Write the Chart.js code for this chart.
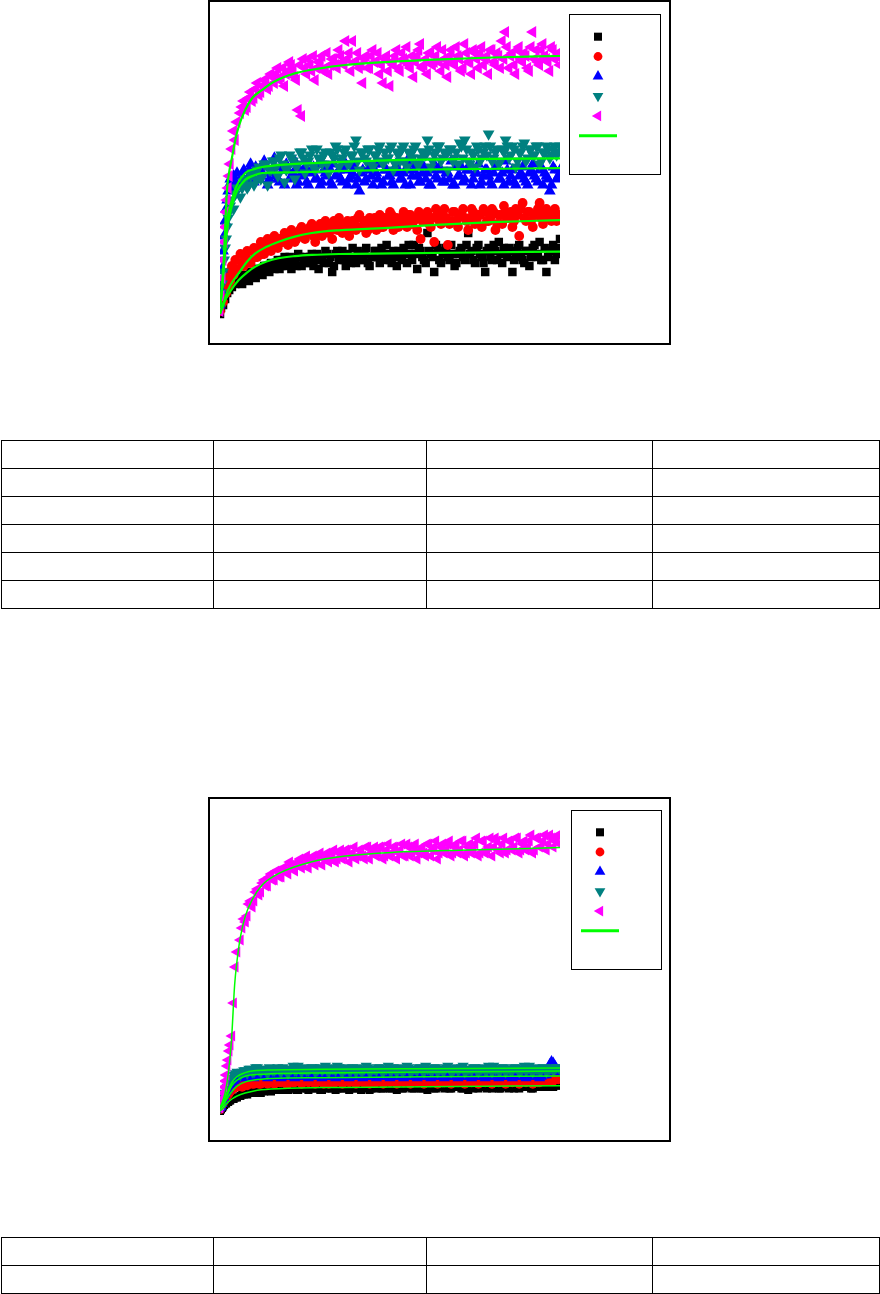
<!DOCTYPE html>
<html>
<head>
<meta charset="utf-8">
<script src="https://cdn.jsdelivr.net/npm/chart.js@4.4.1/dist/chart.umd.min.js"></script>
<style>
  html, body { margin: 0; padding: 0; background: #fff; }
  body { position: relative; width: 880px; height: 1294px; overflow: hidden; }
  .frame { position: absolute; left: 208px; width: 463px; height: 345px; border: 2px solid #000; box-sizing: border-box; }
  .frame canvas { display: block; }
  table.grid { position: absolute; left: 1px; width: 878px; border-collapse: collapse; table-layout: fixed; }
  table.grid td { border: 1px solid #000; height: 27px; padding: 0; }
</style>
</head>
<body>

<div class="frame" style="top:0px;"><canvas id="uptakeChart" width="459" height="341"></canvas></div>

<table class="grid" style="top:440px;">
  <colgroup><col style="width:212px"><col style="width:213px"><col style="width:226px"><col style="width:227px"></colgroup>
  <tr><td></td><td></td><td></td><td></td></tr>
  <tr><td></td><td></td><td></td><td></td></tr>
  <tr><td></td><td></td><td></td><td></td></tr>
  <tr><td></td><td></td><td></td><td></td></tr>
  <tr><td></td><td></td><td></td><td></td></tr>
  <tr><td></td><td></td><td></td><td></td></tr>
</table>

<div class="frame" style="top:797px;"><canvas id="uptakeChart2" width="459" height="341"></canvas></div>

<table class="grid" style="top:1237px;">
  <colgroup><col style="width:212px"><col style="width:213px"><col style="width:226px"><col style="width:227px"></colgroup>
  <tr><td></td><td></td><td></td><td></td></tr>
  <tr><td></td><td></td><td></td><td></td></tr>
</table>

<script>
// --- Data (arbitrary units, time 0..100, signal 0..100) --- //

const timeSteps = [
  0, 0.3, 0.6, 0.9, 1.2, 1.5, 1.8, 2.1, 2.4, 2.7, 3, 3.5, 4, 4.5, 5,
  6, 7, 8, 9, 10, 11, 12, 13, 14, 15,
  16, 17, 18, 19, 20, 21, 22, 23, 24, 25,
  26, 27, 28, 29, 30, 31, 32, 33, 34, 35,
  36, 37, 38, 39, 40, 41, 42, 43, 44, 45,
  46, 47, 48, 49, 50, 51, 52, 53, 54, 55,
  56, 57, 58, 59, 60, 61, 62, 63, 64, 65,
  66, 67, 68, 69, 70, 71, 72, 73, 74, 75,
  76, 77, 78, 79, 80, 81, 82, 83, 84, 85,
  86, 87, 88, 89, 90, 91, 92, 93, 94, 95,
  96, 97, 98, 99, 100
];
// second reading per series, taken between the first ones
const timeStepsHalf = [
  6.5, 7.5, 8.5, 9.5, 10.5, 11.5, 12.5, 13.5, 14.5, 15.5,
  16.5, 17.5, 18.5, 19.5, 20.5, 21.5, 22.5, 23.5, 24.5, 25.5,
  26.5, 27.5, 28.5, 29.5, 30.5, 31.5, 32.5, 33.5, 34.5, 35.5,
  36.5, 37.5, 38.5, 39.5, 40.5, 41.5, 42.5, 43.5, 44.5, 45.5,
  46.5, 47.5, 48.5, 49.5, 50.5, 51.5, 52.5, 53.5, 54.5, 55.5,
  56.5, 57.5, 58.5, 59.5, 60.5, 61.5, 62.5, 63.5, 64.5, 65.5,
  66.5, 67.5, 68.5, 69.5, 70.5, 71.5, 72.5, 73.5, 74.5, 75.5,
  76.5, 77.5, 78.5, 79.5, 80.5, 81.5, 82.5, 83.5, 84.5, 85.5,
  86.5, 87.5, 88.5, 89.5, 90.5, 91.5, 92.5, 93.5, 94.5, 95.5,
  96.5, 97.5, 98.5, 99.5
];

// first chart
const c1Black = [
  2, 4, 6, 5, 8, 7, 10, 9, 11, 10, 12, 11, 13, 12, 14,
  13, 15, 14, 16, 15, 17, 16, 18, 17, 19,
  17, 20, 18, 21, 19, 17, 20, 22, 18, 21,
  19, 22, 20, 17, 21, 23, 19, 16, 22, 20,
  23, 18, 21, 24, 19, 22, 20, 24, 18, 21,
  23, 19, 22, 25, 20, 23, 18, 21, 24, 19,
  22, 25, 17, 23, 20, 29, 22, 16, 24, 19,
  23, 21, 25, 18, 22, 24, 20, 29, 23, 19,
  25, 21, 16, 24, 20, 23, 26, 19, 22, 24,
  16, 21, 25, 20, 23, 18, 24, 21, 26, 20,
  16, 23, 25, 22, 27
];
const c1BlackB = [
  12, 15, 13, 16, 14, 17, 15, 18, 16, 18,
  19, 17, 20, 18, 21, 19, 18, 21, 20, 19,
  21, 18, 22, 20, 19, 22, 21, 18, 23, 21,
  20, 22, 19, 21, 23, 20, 22, 19, 21, 23,
  21, 24, 20, 22, 19, 21, 23, 20, 22, 25,
  20, 22, 24, 21, 19, 23, 21, 25, 20, 22,
  24, 20, 22, 19, 23, 21, 25, 22, 20, 24,
  22, 19, 23, 21, 25, 20, 22, 24, 21, 23,
  20, 24, 22, 19, 23, 21, 25, 22, 20, 24,
  21, 23, 20, 24
];
const c1Red = [
  3, 5, 8, 6, 10, 12, 9, 14, 11, 16, 13, 18, 15, 20, 17,
  22, 18, 23, 19, 24, 21, 26, 22, 27, 23,
  28, 24, 26, 29, 25, 30, 26, 28, 31, 27,
  29, 32, 26, 30, 28, 33, 29, 27, 31, 34,
  29, 32, 28, 33, 30, 35, 31, 29, 34, 32,
  30, 35, 31, 33, 36, 30, 34, 32, 36, 31,
  35, 33, 30, 27, 34, 36, 31, 26, 35, 32,
  37, 25, 33, 36, 31, 35, 34, 30, 37, 32,
  35, 31, 36, 33, 37, 30, 35, 32, 36, 34,
  31, 37, 28, 39, 33, 36, 31, 35, 39, 32,
  37, 34, 36, 33, 35
];
const c1RedB = [
  19, 21, 20, 23, 21, 24, 22, 25, 24, 26,
  25, 27, 26, 28, 27, 29, 27, 30, 28, 29,
  31, 28, 30, 32, 29, 31, 30, 33, 30, 32,
  31, 33, 30, 32, 34, 31, 33, 30, 32, 34,
  33, 31, 34, 32, 35, 33, 31, 34, 33, 35,
  32, 34, 36, 33, 35, 32, 34, 37, 33, 35,
  34, 32, 36, 33, 35, 37, 33, 34, 36, 33,
  35, 37, 33, 34, 36, 32, 35, 38, 34, 36,
  33, 35, 37, 34, 36, 33, 35, 37, 34, 36,
  35, 33, 37, 34
];
const c1Blue = [
  5, 10, 17, 23, 28, 33, 37, 40, 43, 45, 47, 44, 48, 46, 49,
  45, 50, 47, 52, 46, 50, 48, 53, 45, 49,
  54, 47, 51, 45, 50, 48, 53, 46, 49, 51,
  45, 50, 47, 52, 46, 49, 51, 45, 48, 50,
  46, 52, 47, 49, 45, 43, 50, 47, 51, 45,
  49, 52, 46, 50, 48, 45, 51, 47, 49, 53,
  45, 50, 48, 46, 51, 49, 45, 52, 47, 50,
  46, 49, 53, 45, 48, 51, 47, 50, 45, 49,
  52, 46, 50, 48, 45, 51, 47, 49, 53, 46,
  50, 45, 48, 51, 46, 49, 52, 47, 50, 45,
  48, 43, 51, 47, 50
];
const c1BlueB = [
  48, 46, 50, 48, 51, 47, 49, 51, 47, 50,
  48, 46, 50, 52, 47, 49, 45, 50, 48, 46,
  49, 51, 47, 45, 50, 48, 46, 52, 49, 47,
  50, 45, 48, 51, 47, 49, 46, 50, 48, 52,
  47, 45, 50, 48, 46, 51, 49, 47, 45, 50,
  48, 52, 46, 49, 47, 45, 50, 48, 51, 46,
  49, 47, 45, 51, 48, 46, 50, 52, 47, 49,
  45, 48, 50, 46, 49, 51, 47, 45, 50, 48,
  46, 51, 49, 47, 45, 50, 48, 46, 51, 49,
  47, 45, 50, 48
];
const c1Teal = [
  4, 9, 12, 16, 20, 24, 27, 31, 34, 36, 38, 40, 37, 42, 44,
  41, 46, 44, 48, 45, 50, 47, 52, 45, 50,
  53, 48, 55, 46, 51, 54, 47, 52, 56, 49,
  53, 57, 50, 54, 52, 56, 49, 55, 58, 51,
  54, 57, 52, 55, 60, 50, 56, 53, 57, 51,
  55, 58, 52, 54, 57, 50, 56, 53, 58, 51,
  55, 57, 52, 54, 56, 60, 51, 55, 58, 53,
  56, 50, 57, 54, 52, 58, 60, 53, 56, 51,
  57, 54, 58, 62, 53, 56, 52, 57, 60, 54,
  58, 51, 56, 58, 53, 57, 55, 58, 52, 56,
  58, 54, 57, 55, 58
];
const c1TealB = [
  44, 47, 45, 49, 47, 51, 48, 52, 50, 53,
  51, 54, 52, 50, 55, 53, 51, 56, 54, 52,
  55, 51, 57, 53, 55, 52, 56, 54, 57, 53,
  56, 52, 55, 58, 53, 56, 54, 57, 52, 55,
  57, 53, 56, 54, 58, 52, 55, 57, 53, 56,
  54, 58, 52, 56, 55, 57, 53, 56, 58, 54,
  55, 57, 53, 56, 59, 54, 57, 52, 55, 58,
  53, 56, 55, 58, 54, 57, 53, 56, 58, 55,
  57, 53, 56, 59, 54, 57, 55, 58, 53, 56,
  57, 55, 58, 56
];
const c1Magenta = [
  3, 8, 14, 20, 26, 31, 36, 40, 44, 48, 52, 57, 63, 60, 66,
  69, 73, 71, 76, 74, 79, 76, 80, 77, 82,
  79, 84, 81, 78, 83, 85, 81, 70, 68, 84,
  87, 83, 80, 86, 88, 84, 82, 87, 85, 90,
  86, 93, 89, 93, 86, 84, 79, 88, 84, 90,
  86, 82, 79, 88, 78, 85, 90, 83, 87, 91,
  84, 81, 88, 92, 85, 82, 89, 86, 91, 83,
  87, 81, 90, 85, 88, 83, 92, 86, 82, 89,
  84, 91, 87, 82, 90, 85, 88, 93, 96, 84,
  89, 82, 91, 86, 88, 83, 96, 90, 85, 92,
  87, 83, 90, 88, 85
];
const c1MagentaB = [
  71, 70, 74, 73, 77, 75, 78, 80, 78, 81,
  82, 80, 84, 82, 86, 83, 80, 85, 87, 82,
  85, 88, 84, 86, 83, 89, 85, 87, 84, 88,
  85, 87, 83, 86, 89, 85, 87, 84, 88, 86,
  89, 85, 87, 83, 86, 88, 84, 89, 86, 85,
  88, 86, 90, 84, 87, 89, 85, 88, 86, 90,
  85, 88, 86, 91, 87, 84, 89, 86, 90, 87,
  89, 85, 88, 90, 86, 89, 84, 87, 91, 88,
  85, 90, 87, 89, 84, 91, 87, 86, 90, 88,
  86, 91, 87, 89
];

// fitted curves, first chart, [time, signal]
const fit1Black = [[0,2],[0.8,4.5],[1.6,6.7],[3,9.5],[5.5,13.3],[8,15.9],[10.4,17.8],[13.5,19.4],[17.3,20.6],[22,21.3],[27,21.7],[35,22],[50.6,22.2],[75,22.5],[100,22.8]];
const fit1Red = [[0,2],[0.8,5],[1.6,7.8],[3,11.5],[5.5,15.6],[8,19.5],[10.4,22.2],[13.5,24.3],[17.3,26.1],[22,27.8],[27,29],[35,29.9],[50.6,30.8],[65,31.8],[80,32.6],[100,33.3]];
const fit1Blue = [[0,4],[0.7,11],[1.4,21],[2.1,30],[3.5,38],[5,43],[7.4,46.7],[10,48.2],[12.4,49],[20,49.2],[27,49.4],[40,49.8],[50.6,50],[70,50.3],[100,50.6]];
const fit1Teal = [[0,4],[0.7,12],[1.4,23],[2.1,33],[3.5,40],[5,45],[7.4,49],[10,50.3],[12.4,51],[20,51.9],[27,52.3],[40,52.9],[50.6,53.3],[70,53.6],[100,53.9]];
const fit1Magenta = [[0,4],[0.5,10],[1.1,20],[1.6,33],[2.1,44],[2.8,50],[3.5,54],[4.5,60],[5.5,64.5],[7.4,70],[9.5,74],[12.4,76.7],[16,79.5],[22,82.2],[29,83.8],[36.8,85],[50.6,86.1],[65,86.9],[80,87.5],[100,88]];

// second chart
const c2Black = [
  2, 2.5, 3, 3.5, 4, 4.5, 4.5, 5, 5, 5.5, 5.5, 6, 6, 6.5, 6.5,
  7, 7.5, 7.5, 8, 8, 8.5, 8, 8.5, 9, 8.5,
  9, 9.5, 9, 9.5, 9, 10, 9.5, 9, 10, 9.5,
  9, 10, 9.5, 10, 9, 9.5, 10, 9.5, 9, 10,
  9.5, 10, 9, 10, 9.5, 10.5, 9.5, 10, 9, 10,
  9.5, 10, 9.5, 10.5, 9.5, 10, 9, 10, 9.5, 10,
  10, 9.5, 10.5, 9.5, 10, 9, 10, 9.5, 10.5, 10,
  9.5, 10, 9.5, 10.5, 10, 9.5, 10, 9, 10, 10.5,
  9.5, 10, 10, 10.5, 9.5, 10, 9.5, 10.5, 10, 9.5,
  10, 10.5, 9.5, 10, 10, 10.5, 9.5, 10, 10.5, 10,
  10, 10.5, 10, 10.5, 10.5
];
const c2BlackB = [
  7.5, 8, 8.5, 8.5, 9, 9, 9.5, 9, 9.5, 10,
  9.5, 10, 9, 10.5, 9.5, 10, 9, 10, 10.5, 9.5,
  10, 9.5, 10.5, 9, 10, 10.5, 9.5, 10, 9.5, 10.5,
  9.5, 10, 10.5, 9.5, 10, 9, 10.5, 10, 9.5, 10.5,
  10, 9.5, 10.5, 10, 9.5, 10.5, 10, 9.5, 11, 10,
  9.5, 10.5, 10, 9.5, 10.5, 10, 11, 9.5, 10, 10.5,
  10, 9.5, 10.5, 10, 11, 9.5, 10.5, 10, 9.5, 10.5,
  10, 10.5, 9.5, 10, 11, 10, 9.5, 10.5, 10, 11,
  9.5, 10, 10.5, 10, 11, 9.5, 10.5, 10, 10.5, 11,
  10, 10.5, 11, 10.5
];
const c2Red = [
  2.5, 3, 4, 4.5, 5.5, 6, 6.5, 7, 7.5, 8, 8.5, 9, 9.5, 10, 10,
  10.5, 11, 10.5, 11.5, 11, 11.5, 11, 12, 11, 11.5,
  11, 12, 11.5, 12, 11, 12.5, 11.5, 12, 11, 12,
  11.5, 12.5, 11, 12, 11.5, 12, 11, 12.5, 11.5, 12,
  11, 12, 11.5, 12.5, 11, 12, 11.5, 12, 11, 12.5,
  11.5, 12, 11, 12, 11.5, 12.5, 11, 12, 11.5, 12,
  11, 12.5, 11.5, 12, 11, 12, 11.5, 12.5, 11, 12,
  11.5, 12, 11, 12.5, 11.5, 12, 11, 12, 11.5, 12.5,
  11, 12, 11.5, 12, 11, 12.5, 11.5, 12, 11, 12,
  11.5, 12.5, 11, 12, 11.5, 12, 11, 12.5, 11.5, 12,
  12, 12.5, 12, 13, 13
];
const c2RedB = [
  10, 10.5, 11, 11, 11.5, 11, 12, 11.5, 12, 11.5,
  12, 11.5, 12.5, 11, 12, 11.5, 12.5, 12, 11.5, 12.5,
  12, 11.5, 12.5, 12, 11, 12.5, 12, 11.5, 12.5, 12,
  11.5, 12.5, 12, 11.5, 12, 12.5, 11.5, 12, 12.5, 11.5,
  12, 12.5, 11.5, 12, 12.5, 12, 11.5, 12.5, 12, 11.5,
  12.5, 12, 11.5, 12.5, 12, 11.5, 12, 12.5, 12, 11.5,
  12, 12.5, 11.5, 12, 12.5, 12, 11.5, 12.5, 12, 12.5,
  11.5, 12, 12.5, 12, 11.5, 12.5, 12, 12.5, 11.5, 12,
  12.5, 12, 11.5, 12.5, 12, 12.5, 12, 11.5, 12.5, 12,
  12.5, 12, 13, 12.5
];
const c2Blue = [
  3, 3.5, 4.5, 5.5, 6.5, 7.5, 8.5, 9, 9.5, 10.5, 11, 11.5, 12, 12.5, 13,
  13, 14, 13.5, 14.5, 13, 14, 13.5, 14.5, 13, 14,
  13.5, 14.5, 13, 14, 13.5, 14.5, 13, 14, 13.5, 14.5,
  13, 14, 13.5, 15, 13, 14, 13.5, 14.5, 13, 14,
  13.5, 14.5, 13, 14, 13.5, 14.5, 13, 14, 13.5, 15,
  13, 14, 13.5, 14.5, 13, 14, 13.5, 14.5, 13, 14,
  13.5, 14.5, 13, 14, 13.5, 15, 13, 14, 13.5, 14.5,
  13, 14, 13.5, 14.5, 13, 14, 13.5, 14.5, 13, 14,
  13.5, 14.5, 13, 14, 13.5, 14.5, 13, 14, 13.5, 15,
  13, 14, 13.5, 14.5, 13, 14, 13.5, 14.5, 13, 14,
  14, 17.5, 18, 16, 15
];
const c2BlueB = [
  13.5, 13, 14, 13.5, 14.5, 13.5, 14, 13.5, 14.5, 14,
  13.5, 14, 14.5, 13.5, 14, 13.5, 14.5, 14, 13.5, 14,
  14.5, 13.5, 14, 14.5, 13.5, 14, 13.5, 14.5, 14, 13.5,
  14, 14.5, 13.5, 14, 13.5, 14.5, 14, 13.5, 14, 14.5,
  13.5, 14, 14.5, 13.5, 14, 14.5, 13.5, 14, 13.5, 14.5,
  14, 13.5, 14, 14.5, 13.5, 14, 14.5, 13.5, 14, 14.5,
  13.5, 14, 13.5, 14.5, 14, 13.5, 14, 14.5, 13.5, 14,
  14.5, 13.5, 14, 14.5, 13.5, 14, 13.5, 14.5, 14, 13.5,
  14, 14.5, 13.5, 14, 14.5, 13.5, 14, 14.5, 13.5, 14,
  15, 18.5, 17, 15.5
];
const c2Teal = [
  3, 4, 5, 6, 7, 8, 9, 10, 11, 12, 12.5, 13, 14, 14.5, 15,
  14, 15.5, 14.5, 16, 15, 16.5, 15, 16, 14.5, 16,
  15.5, 16.5, 15, 16, 14.5, 16, 15.5, 17, 15, 16,
  15.5, 16.5, 15, 16, 15.5, 17, 15, 16, 15.5, 16.5,
  15, 16, 15.5, 16.5, 15, 16, 15.5, 17, 15, 16,
  15.5, 16.5, 15, 16, 15.5, 16.5, 15, 16, 15.5, 17,
  15, 16, 15.5, 16.5, 15, 16, 15.5, 16.5, 15, 16,
  15.5, 17, 15, 16, 15.5, 16.5, 15, 16, 15.5, 16.5,
  15, 16, 15.5, 17, 15, 16, 15.5, 16.5, 15, 16,
  15.5, 16.5, 15, 16, 15.5, 17, 15, 16, 15.5, 16.5,
  15, 16, 15.5, 16.5, 16
];
const c2TealB = [
  15, 15.5, 16, 15, 16.5, 15.5, 16, 15.5, 16.5, 15.5,
  16, 15.5, 16.5, 15.5, 16, 17, 15.5, 16, 16.5, 15.5,
  16, 16.5, 15.5, 16.5, 16, 15.5, 16.5, 16, 17, 15.5,
  16, 16.5, 15.5, 16, 16.5, 15.5, 16, 16.5, 15.5, 16,
  16.5, 15.5, 16, 17, 15.5, 16, 16.5, 15.5, 16, 16.5,
  15.5, 16, 16.5, 15.5, 17, 16, 15.5, 16.5, 16, 15.5,
  16.5, 16, 15.5, 16.5, 16, 17, 15.5, 16, 16.5, 15.5,
  16, 16.5, 15.5, 16, 17, 16, 15.5, 16.5, 16, 15.5,
  16.5, 16, 15.5, 17, 16, 15.5, 16.5, 16, 15.5, 16.5,
  16, 16.5, 16, 16.5
];
const c2Magenta = [
  3, 4, 6, 8, 10, 12, 14, 17, 19, 22, 24, 27, 38, 50, 55,
  59, 66, 67, 72, 72, 76, 75, 79, 77, 81,
  79, 82, 80, 83, 81, 84, 82, 85, 83, 86,
  83, 86, 84, 87, 84, 87, 85, 88, 85, 88,
  86, 89, 85, 88, 86, 89, 87, 90, 86, 89,
  87, 90, 86, 89, 87, 90, 86, 89, 87, 91,
  87, 90, 86, 89, 88, 91, 87, 90, 86, 90,
  88, 91, 87, 90, 88, 92, 87, 90, 88, 91,
  87, 92, 88, 90, 87, 93, 89, 91, 88, 92,
  89, 93, 88, 91, 89, 92, 88, 93, 90, 92,
  89, 94, 90, 93, 91
];
const c2MagentaB = [
  63, 65, 71, 70, 75, 74, 78, 77, 80, 79,
  82, 80, 83, 82, 85, 83, 84, 86, 84, 87,
  85, 87, 85, 88, 86, 88, 86, 89, 86, 89,
  87, 89, 87, 90, 87, 89, 86, 90, 88, 90,
  88, 90, 87, 91, 88, 90, 88, 91, 87, 90,
  88, 91, 88, 90, 87, 91, 89, 92, 88, 91,
  89, 92, 88, 91, 89, 92, 88, 91, 89, 93,
  88, 92, 89, 93, 90, 92, 88, 93, 89, 92,
  90, 93, 89, 92, 90, 94, 89, 93, 90, 94,
  91, 93, 92, 94
];

const fit2Black = [[0,2],[1,3],[2,4.5],[3.5,6],[5,7],[7.4,8],[10,8.7],[15,9.3],[30,9.8],[60,10.1],[100,10.4]];
const fit2Red = [[0,2.5],[1,4],[2,6],[3.5,8.5],[5,10.3],[7.4,11.7],[10,12.3],[15,12.8],[30,13.1],[60,13.4],[100,13.7]];
const fit2Blue = [[0,3],[1,4.5],[2,7],[3.5,10.5],[5,12.3],[7.4,13.6],[10,14.1],[15,14.4],[30,14.7],[60,15],[100,15.3]];
const fit2Teal = [[0,3],[1,5],[2,8],[3.5,11.5],[5,13.5],[7.4,14.8],[10,15.4],[15,15.7],[30,15.9],[60,16.1],[100,16.3]];
const fit2Magenta = [[0,3],[1.5,8],[2.5,15],[3.4,26],[4.3,44],[5,52],[6,60],[7.4,66.8],[9.4,72.3],[12.4,77.3],[17.3,81.2],[27,85.1],[36.9,87],[50.6,88.2],[73,89],[100,89.8]];

// --- Helpers --- //

const toPoints = (xs, ys) => xs.map((x, i) => ({ x: x, y: ys[i] }));
const pairsToPoints = pairs => pairs.map(p => ({ x: p[0], y: p[1] }));

// marker look per series, same order as the legend
const markerStyles = [
  { color: '#000000', pointStyle: 'rect', radius: 6, rotation: 0, order: 5 },
  { color: '#ff0000', pointStyle: 'circle', radius: 4.9, rotation: 0, order: 4 },
  { color: '#0000ff', pointStyle: 'triangle', radius: 6.8, rotation: 0, order: 3 },
  { color: '#008080', pointStyle: 'triangle', radius: 6.8, rotation: 180, order: 2 },
  { color: '#ff00ff', pointStyle: 'triangle', radius: 6.8, rotation: -90, order: 1 }
];

// Legend drawn as a framed box inside the chart, symbols only (no label text)
const boxLegend = {
    id: 'boxLegend',
    afterDatasetsDraw(chart, args, opts) {
        const ctx = chart.ctx;
        ctx.save();
        ctx.strokeStyle = '#000';
        ctx.lineWidth = 1;
        ctx.strokeRect(opts.x + 0.5, opts.y + 0.5, opts.w, opts.h);
        let y = opts.y + opts.first;
        let fitShown = false;
        chart.data.datasets.forEach(ds => {
            if (ds.isFit) {
                if (fitShown) return;
                fitShown = true;
                ctx.strokeStyle = ds.borderColor;
                ctx.lineWidth = 3;
                ctx.beginPath();
                ctx.moveTo(opts.x + 10, y);
                ctx.lineTo(opts.x + 48, y);
                ctx.stroke();
            } else {
                ctx.fillStyle = ds.backgroundColor;
                Chart.helpers.drawPoint(ctx, {
                    pointStyle: ds.pointStyle,
                    radius: opts.markerRadius[ds.pointStyle] || ds.pointRadius,
                    rotation: ds.rotation || 0,
                    borderWidth: 0
                }, opts.x + 29, y);
            }
            y += opts.step;
        });
        ctx.restore();
    }
};

function buildChart(canvasId, series, fits, sizeScale, fitWidth, legendBox) {
    const datasets = series.map((pair, i) => {
        const m = markerStyles[i];
        return {
            data: toPoints(timeSteps, pair[0]).concat(toPoints(timeStepsHalf, pair[1])),
            backgroundColor: m.color,
            borderColor: m.color,
            pointStyle: m.pointStyle,
            pointRadius: m.radius * sizeScale,
            rotation: m.rotation,
            pointBorderWidth: 0,
            showLine: false,
            order: m.order
        };
    });
    fits.forEach(pairs => {
        datasets.push({
            isFit: true,
            data: pairsToPoints(pairs),
            showLine: true,
            borderColor: '#00ff00',
            backgroundColor: '#00ff00',
            borderWidth: fitWidth,
            pointRadius: 0,
            cubicInterpolationMode: 'monotone',
            order: 0
        });
    });

    return new Chart(document.getElementById(canvasId), {
        type: 'scatter',
        data: { datasets: datasets },
        options: {
            responsive: false,
            animation: false,
            devicePixelRatio: 1,
            layout: { padding: { left: 10, right: 109, top: 18, bottom: 23 } },
            scales: {
                x: { type: 'linear', min: 0, max: 100, display: false },
                y: { type: 'linear', min: 0, max: 100, display: false }
            },
            plugins: {
                legend: { display: false },
                tooltip: { enabled: false },
                boxLegend: Object.assign({ markerRadius: { rect: 5.7, circle: 4.4, triangle: 6.2 } }, legendBox)
            }
        },
        plugins: [boxLegend]
    });
}

buildChart('uptakeChart',
    [[c1Black, c1BlackB], [c1Red, c1RedB], [c1Blue, c1BlueB], [c1Teal, c1TealB], [c1Magenta, c1MagentaB]],
    [fit1Black, fit1Red, fit1Blue, fit1Teal, fit1Magenta],
    1, 2.2,
    { x: 359, y: 12, w: 91, h: 160, first: 22.7, step: 19.8 });

buildChart('uptakeChart2',
    [[c2Black, c2BlackB], [c2Red, c2RedB], [c2Blue, c2BlueB], [c2Teal, c2TealB], [c2Magenta, c2MagentaB]],
    [fit2Black, fit2Red, fit2Blue, fit2Teal, fit2Magenta],
    0.95, 1.5,
    { x: 361, y: 11, w: 90, h: 159, first: 22.3, step: 19.7 });
</script>
</body>
</html>
